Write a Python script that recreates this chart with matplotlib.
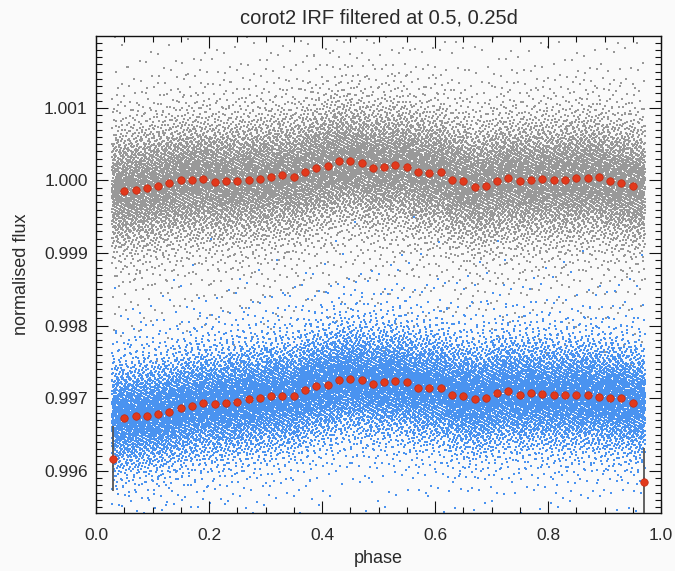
import numpy as np
import matplotlib
matplotlib.use("Agg")
import matplotlib.pyplot as plt
from matplotlib.ticker import MultipleLocator
from statistics import NormalDist

# Binned light-curve means (0.02-wide phase bins)
bin_phase = [0.05, 0.07, 0.09, 0.11, 0.13, 0.15, 0.17, 0.19, 0.21, 0.23,
             0.25, 0.27, 0.29, 0.31, 0.33, 0.35, 0.37, 0.39, 0.41, 0.43,
             0.45, 0.47, 0.49, 0.51, 0.53, 0.55, 0.57, 0.59, 0.61, 0.63,
             0.65, 0.67, 0.69, 0.71, 0.73, 0.75, 0.77, 0.79, 0.81, 0.83,
             0.85, 0.87, 0.89, 0.91, 0.93, 0.95]

raw_binned = [0.99985, 0.99987, 0.99990, 0.99993, 0.99996, 1.00000, 1.00000,
              1.00002, 0.99998, 0.99999, 0.99999, 1.00001, 1.00002, 1.00005,
              1.00007, 1.00005, 1.00012, 1.00017, 1.00020, 1.00027, 1.00027,
              1.00024, 1.00017, 1.00019, 1.00021, 1.00019, 1.00011, 1.00010,
              1.00011, 1.00001, 0.99999, 0.99991, 0.99993, 0.99999, 1.00003,
              0.99999, 1.00000, 1.00002, 1.00000, 1.00000, 1.00004, 1.00004,
              1.00005, 0.99999, 0.99997, 0.99993]

filt_binned = [0.99673, 0.99675, 0.99676, 0.99678, 0.99681, 0.99687, 0.99689,
               0.99694, 0.99692, 0.99693, 0.99695, 0.99699, 0.99700, 0.99703,
               0.99703, 0.99703, 0.99711, 0.99717, 0.99718, 0.99725, 0.99726,
               0.99725, 0.99720, 0.99722, 0.99724, 0.99722, 0.99714, 0.99714,
               0.99714, 0.99705, 0.99703, 0.99699, 0.99700, 0.99707, 0.99710,
               0.99705, 0.99707, 0.99706, 0.99704, 0.99704, 0.99705, 0.99705,
               0.99702, 0.99700, 0.99700, 0.99694]

# Partial bins at the edges of the out-of-transit phase range
edge_phase = [0.03, 0.97]
edge_flux = [0.99617, 0.99585]
edge_err = [0.00045, 0.00047]

raw_err = 0.00004
filt_err = 0.000035

# Scatter of the unbinned points about the bin means
raw_scatter = dict(n_core=14000, s_core=0.00042, n_wide=3500, s_wide=0.00088)
filt_scatter = dict(n_core=14000, s_core=0.00038, n_wide=3500, s_wide=0.00068)
phase_span = (0.028, 0.972)

nd = NormalDist()
inv_cdf = np.vectorize(nd.inv_cdf)


def quasi_cloud(means, n, sigma, a1, a2, shift):
    """Spread n points over the phase span with a low-discrepancy (R2) sequence,
    scattered about the step function of bin means with a Gaussian profile."""
    k = np.arange(n)
    u = (shift + k * a1) % 1.0
    v = (0.5 + shift * 0.37 + k * a2) % 1.0
    v = np.clip(v, 1e-5, 1 - 1e-5)
    x = phase_span[0] + u * (phase_span[1] - phase_span[0])
    idx = np.clip(np.round((x - bin_phase[0]) / 0.02).astype(int), 0, len(means) - 1)
    y = np.asarray(means)[idx] + sigma * inv_cdf(v)
    return x, y


def series_cloud(means, p, shift):
    a1, a2 = 0.7548776662466927, 0.5698402909980532
    x1, y1 = quasi_cloud(means, p["n_core"], p["s_core"], a1, a2, shift)
    x2, y2 = quasi_cloud(means, p["n_wide"], p["s_wide"], a2, a1, shift + 0.21)
    return np.concatenate([x1, x2]), np.concatenate([y1, y2])


fig = plt.figure(figsize=(6.75, 5.71), dpi=100, facecolor="#fafafa")
ax = fig.add_axes([96 / 675, 58 / 571, 565 / 675, 477 / 571])
ax.set_facecolor("#fafafa")

xr, yr = series_cloud(raw_binned, raw_scatter, 0.13)
xf, yf = series_cloud(filt_binned, filt_scatter, 0.61)
ax.scatter(xr, yr, s=4.0, marker="s", color="#999999", linewidths=0, zorder=1)
ax.scatter(xf, yf, s=4.0, marker="s", color="#4a93f0", linewidths=0, zorder=1)

dot = dict(fmt="o", ms=5.4, mfc="#e2391c", mec="#c02a12", mew=0.5,
           ecolor="#111111", elinewidth=1.0, capsize=0, zorder=3)
ax.errorbar(bin_phase, raw_binned, yerr=raw_err, **dot)
ax.errorbar(bin_phase, filt_binned, yerr=filt_err, **dot)
ax.errorbar(edge_phase, edge_flux, yerr=edge_err, fmt="o", ms=5.4,
            mfc="#e2391c", mec="#c02a12", mew=0.5, ecolor="#555555",
            elinewidth=1.3, capsize=0, zorder=3, clip_on=True)

ax.set_xlim(0.0, 1.0)
ax.set_ylim(0.99542, 1.00199)

ax.xaxis.set_major_locator(MultipleLocator(0.2))
ax.xaxis.set_minor_locator(MultipleLocator(0.05))
ax.yaxis.set_major_locator(MultipleLocator(0.001))
ax.yaxis.set_minor_locator(MultipleLocator(0.0001))
ax.xaxis.set_major_formatter(plt.FuncFormatter(lambda v, p: f"{v:.1f}"))
ax.yaxis.set_major_formatter(plt.FuncFormatter(lambda v, p: f"{v:.3f}"))

font = "Liberation Sans"
txt = "#2a2a2a"
ax.tick_params(which="both", direction="in", top=True, right=True,
               color="#111111", width=0.8, labelsize=12.5, labelcolor=txt)
ax.tick_params(which="major", length=8.5)
ax.tick_params(which="minor", length=4.6)
ax.tick_params(axis="x", which="major", pad=11)
ax.tick_params(axis="y", which="major", pad=6)
for lab in ax.get_xticklabels() + ax.get_yticklabels():
    lab.set_family(font)
for sp in ax.spines.values():
    sp.set_linewidth(1.0)
    sp.set_color("#111111")

ax.set_title("corot2 IRF filtered at 0.5, 0.25d", fontsize=14.5, family=font,
             color=txt, pad=9)
ax.set_xlabel("phase", fontsize=13, family=font, color=txt, labelpad=5)
ax.set_ylabel("normalised flux", fontsize=13, family=font, color=txt, labelpad=10)

fig.savefig("out.png", dpi=100, facecolor=fig.get_facecolor())
